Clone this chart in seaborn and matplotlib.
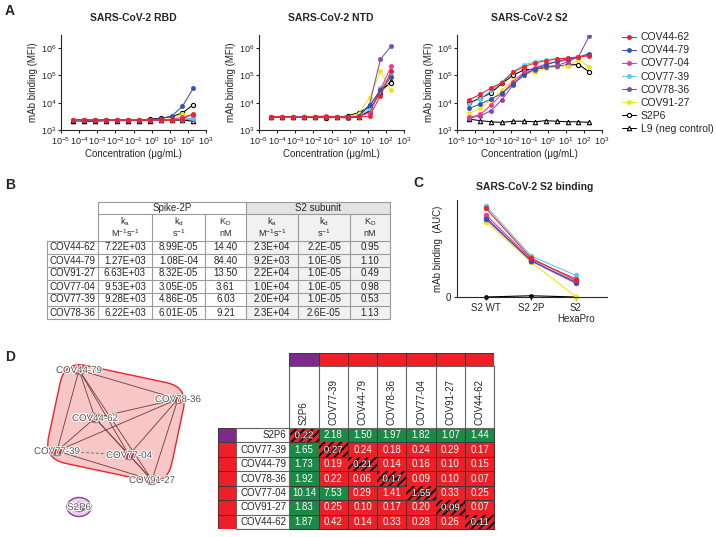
import numpy as np
import pandas as pd
import matplotlib
matplotlib.use('Agg')
import matplotlib.pyplot as plt
import matplotlib.patheffects as pe
import seaborn as sns
from matplotlib.colors import ListedColormap
from matplotlib.patches import Rectangle, Ellipse, FancyBboxPatch
from matplotlib.transforms import Affine2D
from matplotlib.ticker import NullLocator

W, H = 716, 537

# ---------------- data ----------------
antibodies = ['COV44-62', 'COV44-79', 'COV77-04', 'COV77-39', 'COV78-36', 'COV91-27',
              'S2P6', 'L9 (neg control)']
ab_colors = ['#ee2229', '#3453b0', '#f0359a', '#5ccbea', '#7c4db3', '#f4e31a', 'black', 'black']
concentration = [4.77e-5, 1.91e-4, 7.63e-4, 3.05e-3, 1.22e-2, 4.88e-2,
                 0.195, 0.781, 3.125, 12.5, 50, 200]

rbd_mfi = {
    'COV44-62': [2.4e3, 2.4e3, 2.3e3, 2.4e3, 2.3e3, 2.3e3, 2.3e3, 2.3e3, 2.3e3, 2.3e3, 2.5e3, 4.0e3],
    'COV44-79': [2.4e3, 2.3e3, 2.3e3, 2.3e3, 2.4e3, 2.3e3, 2.3e3, 2.4e3, 2.6e3, 3.2e3, 7.4e3, 3.4e4],
    'COV77-04': [2.3e3, 2.3e3, 2.3e3, 2.3e3, 2.3e3, 2.3e3, 2.3e3, 2.3e3, 2.4e3, 2.4e3, 3.0e3, 3.6e3],
    'COV77-39': [2.4e3, 2.3e3, 2.4e3, 2.3e3, 2.4e3, 2.3e3, 2.3e3, 2.3e3, 2.3e3, 2.4e3, 2.5e3, 2.8e3],
    'COV78-36': [2.3e3, 2.3e3, 2.3e3, 2.3e3, 2.3e3, 2.3e3, 2.3e3, 2.3e3, 2.3e3, 2.4e3, 2.4e3, 2.6e3],
    'COV91-27': [2.3e3, 2.3e3, 2.3e3, 2.3e3, 2.3e3, 2.3e3, 2.3e3, 2.3e3, 2.4e3, 2.6e3, 3.8e3, 3.2e3],
    'S2P6': [2.2e3, 2.3e3, 2.3e3, 2.3e3, 2.3e3, 2.3e3, 2.3e3, 2.5e3, 2.7e3, 3.1e3, 4.2e3, 8.5e3],
    'L9 (neg control)': [2.2e3, 2.1e3, 2.1e3, 2.2e3, 2.2e3, 2.2e3, 2.2e3, 2.2e3, 2.3e3, 2.3e3, 2.3e3, 2.1e3],
}
ntd_mfi = {
    'COV44-62': [3.1e3, 3.1e3, 3.0e3, 2.9e3, 3.1e3, 3.0e3, 3.0e3, 3.0e3, 3.0e3, 3.2e3, 1.8e4, 1.5e5],
    'COV44-79': [3.0e3, 3.0e3, 3.1e3, 3.0e3, 2.9e3, 2.9e3, 3.0e3, 2.7e3, 3.2e3, 8.0e3, 2.8e4, 9.0e4],
    'COV77-04': [3.0e3, 3.1e3, 3.0e3, 3.0e3, 3.1e3, 3.3e3, 3.0e3, 3.0e3, 3.1e3, 4.2e3, 3.0e4, 2.2e5],
    'COV77-39': [3.0e3, 3.0e3, 3.0e3, 3.0e3, 3.0e3, 3.0e3, 3.0e3, 2.9e3, 3.3e3, 6.0e3, 3.5e4, 1.0e5],
    'COV78-36': [3.0e3, 3.0e3, 3.0e3, 3.0e3, 3.0e3, 3.0e3, 2.9e3, 2.9e3, 3.3e3, 8.5e3, 3.9e5, 1.2e6],
    'COV91-27': [3.0e3, 3.0e3, 3.0e3, 3.0e3, 3.0e3, 3.0e3, 3.0e3, 3.0e3, 4.0e3, 1.5e4, 1.4e5, 2.8e4],
    'S2P6': [2.9e3, 3.0e3, 2.9e3, 2.9e3, 3.0e3, 2.8e3, 2.9e3, 3.3e3, 4.3e3, 7.0e3, 2.8e4, 5.4e4],
    'L9 (neg control)': [2.9e3, 2.9e3, 2.9e3, 2.9e3, 2.9e3, 2.9e3, 2.9e3, 2.9e3, 3.0e3, 5.0e3, 2.5e4, 6.5e4],
}
s2_mfi = {
    'COV44-62': [1.3e4, 2.0e4, 3.5e4, 5.4e4, 1.3e5, 2.1e5, 2.8e5, 3.5e5, 4.0e5, 4.3e5, 4.8e5, 5.3e5],
    'COV44-79': [6.2e3, 9.0e3, 1.35e4, 2.2e4, 4.8e4, 1.0e5, 1.7e5, 2.4e5, 3.3e5, 4.0e5, 4.7e5, 6.3e5],
    'COV77-04': [2.9e3, 3.7e3, 8.2e3, 2.1e4, 5.9e4, 1.3e5, 1.9e5, 2.6e5, 3.1e5, 3.6e5, 4.6e5, 5.5e5],
    'COV77-39': [9.0e3, 1.4e4, 2.8e4, 5.9e4, 1.35e5, 2.4e5, 3.2e5, 3.6e5, 4.1e5, 4.3e5, 4.6e5, 5.5e5],
    'COV78-36': [2.7e3, 3.3e3, 5.1e3, 1.3e4, 4.4e4, 1.2e5, 1.6e5, 2.1e5, 2.3e5, 3.1e5, 4.8e5, 2.8e6],
    'COV91-27': [4.1e3, 6.2e3, 1.25e4, 2.9e4, 6.8e4, 1.0e5, 1.35e5, 1.8e5, 2.1e5, 2.3e5, 3.6e5, 2.1e5],
    'S2P6': [1.0e4, 1.45e4, 2.3e4, 5.1e4, 1.0e5, 1.6e5, 1.7e5, 1.95e5, 2.2e5, 2.4e5, 2.5e5, 1.35e5],
    'L9 (neg control)': [2.5e3, 2.2e3, 2.0e3, 1.9e3, 2.1e3, 2.1e3, 2.0e3, 2.2e3, 2.1e3, 2.0e3, 2.0e3, 1.9e3],
}

# panel C: S2 binding AUC
c_antigens = ['S2 WT', 'S2 2P', 'S2\nHexaPro']
c_antibodies = ['COV44-62', 'COV44-79', 'COV77-04', 'COV77-39', 'COV78-36', 'COV91-27', 'S2P6']
c_wt = [10.7, 9.4, 9.9, 11.0, 9.6, 9.1, 0.0]
c_2p = [4.7, 4.4, 4.55, 4.95, 4.35, 4.2, 0.15]
c_hexapro = [2.0, 1.8, 2.2, 2.6, 1.65, 0.05, 0.0]

# panel B: kinetics table
b_rows = ['COV44-62', 'COV44-79', 'COV91-27', 'COV77-04', 'COV77-39', 'COV78-36']
spike_ka = [7.22e3, 1.27e3, 6.63e3, 9.53e3, 9.28e3, 6.22e3]
spike_kd = [8.99e-5, 1.08e-4, 8.32e-5, 3.05e-5, 4.86e-5, 6.01e-5]
spike_KD = [14.40, 84.40, 13.50, 3.61, 6.03, 9.21]
s2_ka = [2.3e4, 9.2e3, 2.2e4, 1.0e4, 2.0e4, 2.3e4]
s2_kd = [2.2e-5, 1.0e-5, 1.0e-5, 1.0e-5, 1.0e-5, 2.6e-5]
s2_KD = [0.95, 1.10, 0.49, 0.98, 0.53, 1.13]

# panel D: competition network + matrix
net_nodes = ['COV44-79', 'COV78-36', 'COV44-62', 'COV77-39', 'COV77-04', 'COV91-27', 'S2P6']
net_x = [79, 178, 95, 57, 129, 152, 79]
net_y = [370, 399, 418, 451, 455, 480, 507]
net_edges = [('COV44-79', 'COV78-36'), ('COV44-79', 'COV44-62'), ('COV44-79', 'COV77-39'),
             ('COV44-79', 'COV77-04'), ('COV44-79', 'COV91-27'), ('COV78-36', 'COV44-62'),
             ('COV78-36', 'COV77-39'), ('COV78-36', 'COV77-04'), ('COV78-36', 'COV91-27'),
             ('COV44-62', 'COV77-39'), ('COV44-62', 'COV77-04'), ('COV44-62', 'COV91-27'),
             ('COV77-39', 'COV91-27'), ('COV77-04', 'COV91-27')]
net_dashed = [('COV77-39', 'COV77-04')]

hm_labels = ['S2P6', 'COV77-39', 'COV44-79', 'COV78-36', 'COV77-04', 'COV91-27', 'COV44-62']
hm_groups = [1, 0, 0, 0, 0, 0, 0]
hm_values = [
    [0.22, 2.18, 1.50, 1.97, 1.82, 1.07, 1.44],
    [1.65, 0.27, 0.24, 0.18, 0.24, 0.29, 0.17],
    [1.73, 0.19, 0.21, 0.14, 0.16, 0.10, 0.15],
    [1.92, 0.22, 0.06, 0.17, 0.09, 0.10, 0.07],
    [10.14, 7.53, 0.29, 1.41, 1.55, 0.33, 0.25],
    [1.83, 0.25, 0.10, 0.17, 0.20, 0.09, 0.07],
    [1.87, 0.42, 0.14, 0.33, 0.28, 0.26, 0.11],
]

RED = '#ee1f26'
GREEN = '#1b8a47'
PURPLE = '#7d2a8c'

# ---------------- style ----------------
sns.set_style('ticks')
plt.rcParams['font.family'] = ['Liberation Sans', 'DejaVu Sans']
plt.rcParams['mathtext.fontset'] = 'custom'
plt.rcParams['mathtext.rm'] = 'Liberation Sans'
plt.rcParams['mathtext.it'] = 'Liberation Sans:italic'
plt.rcParams['mathtext.bf'] = 'Liberation Sans:bold'
plt.rcParams['axes.unicode_minus'] = False
plt.rcParams['hatch.linewidth'] = 1.3
plt.rcParams['hatch.color'] = 'black'


def px_rect(left, top, right, bottom):
    return [left / W, 1 - bottom / H, (right - left) / W, (bottom - top) / H]


fig = plt.figure(figsize=(W / 100, H / 100), dpi=100)

# overlay in pixel coordinates for letters, table and network
ax_o = fig.add_axes([0, 0, 1, 1])
ax_o.set_xlim(0, W)
ax_o.set_ylim(H, 0)
ax_o.axis('off')

for letter, (lx, ly) in zip('ABCD', [(10, 11), (10, 185), (418, 183), (10, 357)]):
    ax_o.text(lx, ly, letter, fontsize=10, fontweight='bold', ha='center', va='center')


def marker_style(name, color):
    if name == 'S2P6':
        return dict(marker='o', markersize=3.0, markerfacecolor='white',
                    markeredgecolor='black', markeredgewidth=0.8)
    if name.startswith('L9'):
        return dict(marker='^', markersize=3.2, markerfacecolor='white',
                    markeredgecolor='black', markeredgewidth=0.8)
    return dict(marker='o', markersize=3.0, markerfacecolor=color,
                markeredgecolor=color, markeredgewidth=0.5)


# ---------------- panel A ----------------
panels = [('SARS-CoV-2 RBD', rbd_mfi), ('SARS-CoV-2 NTD', ntd_mfi), ('SARS-CoV-2 S2', s2_mfi)]
for i, (title, mfi) in enumerate(panels):
    left = 61 + 198 * i
    ax = fig.add_axes(px_rect(left, 35, left + 145, 130))
    ax.set_xscale('log')
    ax.set_yscale('log')
    for name, color in reversed(list(zip(antibodies, ab_colors))):
        sns.lineplot(x=concentration, y=mfi[name], ax=ax, color=color, linewidth=0.75,
                     errorbar=None, legend=False, label=name, **marker_style(name, color))
    ax.set_xlim(1e-5, 1e3)
    ax.set_ylim(1e3, 10 ** 6.48)
    ax.set_xticks([10.0 ** k for k in range(-5, 4)])
    ax.set_yticks([1e3, 1e4, 1e5, 1e6])
    ax.xaxis.set_minor_locator(NullLocator())
    ax.yaxis.set_minor_locator(NullLocator())
    sns.despine(ax=ax)
    for s in ('left', 'bottom'):
        ax.spines[s].set_linewidth(0.8)
    ax.tick_params(labelsize=6.5, length=2.5, width=0.8, pad=1)
    ax.set_xlabel('Concentration (μg/mL)', fontsize=7, labelpad=2)
    ax.set_ylabel('mAb binding (MFI)', fontsize=7, labelpad=2)
    ax_o.text(left + 72, 18, title, ha='center', va='center', fontsize=7.5, fontweight='bold')
    if i == 2:
        handles, labels = ax.get_legend_handles_labels()
        lookup = dict(zip(labels, handles))
        fig.legend([lookup[n] for n in antibodies], antibodies, loc='upper left',
                   bbox_to_anchor=(618 / W, 1 - 28 / H), frameon=False, fontsize=7.5,
                   handlelength=1.3, handletextpad=0.5, labelspacing=0.3, borderaxespad=0)

# ---------------- panel B ----------------
col_edges = [47, 98, 152, 205, 246, 298, 350, 390]
t_top, t_head, t_unit, row_h = 202, 214, 241, 13
t_bot = t_unit + row_h * len(b_rows)
line_c = '#9a9a9a'
ax_o.add_patch(Rectangle((246, t_top), 390 - 246, t_bot - t_top, fc='#f1f1f1', ec='none'))
ax_o.add_patch(Rectangle((246, t_top), 390 - 246, t_head - t_top, fc='#e3e3e3', ec='none'))
ax_o.plot([98, 390], [t_top, t_top], color=line_c, lw=0.8)
ax_o.plot([98, 390], [t_head, t_head], color=line_c, lw=0.8)
for r in range(len(b_rows) + 1):
    yy = t_unit + r * row_h
    ax_o.plot([47, 390], [yy, yy], color=line_c, lw=0.8)
ax_o.plot([47, 47], [t_unit, t_bot], color=line_c, lw=0.8)
for xe in col_edges[1:]:
    y0 = t_top if xe in (98, 246, 390) else t_head
    ax_o.plot([xe, xe], [y0, t_bot], color=line_c, lw=0.8)
ax_o.text((98 + 246) / 2, (t_top + t_head) / 2, 'Spike-2P', ha='center', va='center', fontsize=7)
ax_o.text((246 + 390) / 2, (t_top + t_head) / 2, 'S2 subunit', ha='center', va='center', fontsize=7)
unit_top = ['k$_{\\mathregular{a}}$', 'k$_{\\mathregular{d}}$', 'K$_{\\mathregular{D}}$'] * 2
unit_bot = ['M$^{\\mathregular{-1}}$s$^{\\mathregular{-1}}$', 's$^{\\mathregular{-1}}$', 'nM'] * 2
for j in range(6):
    xc = (col_edges[j + 1] + col_edges[j + 2]) / 2
    ax_o.text(xc, t_head + 8, unit_top[j], ha='center', va='center', fontsize=6.5)
    ax_o.text(xc, t_head + 19.5, unit_bot[j], ha='center', va='center', fontsize=6.5)
cols_fmt = [[f'{v:.2E}' for v in spike_ka], [f'{v:.2E}' for v in spike_kd],
            [f'{v:.2f}' for v in spike_KD], [f'{v:.1E}' for v in s2_ka],
            [f'{v:.1E}' for v in s2_kd], [f'{v:.2f}' for v in s2_KD]]
for r, name in enumerate(b_rows):
    yc = t_unit + row_h * (r + 0.5)
    ax_o.text((47 + 98) / 2, yc, name, ha='center', va='center', fontsize=7)
    for j in range(6):
        xc = (col_edges[j + 1] + col_edges[j + 2]) / 2
        ax_o.text(xc, yc, cols_fmt[j][r], ha='center', va='center', fontsize=7)

# ---------------- panel C ----------------
ax_c = fig.add_axes(px_rect(457, 200, 607, 297))
c_df = pd.DataFrame({
    'antibody': np.repeat(c_antibodies, 3),
    'antigen': c_antigens * len(c_antibodies),
    'auc': np.ravel(np.column_stack([c_wt, c_2p, c_hexapro])),
})
for name, color in reversed(list(zip(antibodies[:7], ab_colors[:7]))):
    sub = c_df[c_df['antibody'] == name]
    ms = 2.6 if name == 'S2P6' else 3.2
    sns.lineplot(data=sub, x='antigen', y='auc', ax=ax_c, color=color, linewidth=0.8,
                 marker='o', markersize=ms, markerfacecolor=color, markeredgecolor=color,
                 errorbar=None, legend=False, sort=False, clip_on=False)
ax_c.set_xlim(-0.644, 2.69)
ax_c.set_ylim(0, 11.7)
ax_c.set_yticks([0])
sns.despine(ax=ax_c)
for s in ('left', 'bottom'):
    ax_c.spines[s].set_linewidth(0.8)
ax_c.tick_params(labelsize=7, length=2.5, width=0.8, pad=1.5)
ax_c.set_xlabel('')
ax_c.set_ylabel('mAb binding  (AUC)', fontsize=7, labelpad=2)
ax_o.text(535, 187, 'SARS-CoV-2 S2 binding', ha='center', va='center', fontsize=7.5,
          fontweight='bold')

# ---------------- panel D: network ----------------
pos = {n: (x, y) for n, x, y in zip(net_nodes, net_x, net_y)}
hull = FancyBboxPatch((116 - 63, 423 - 50), 126, 100,
                      boxstyle='round,pad=0,rounding_size=22',
                      fc='#f7c6c6', ec='#ee2229', lw=1.0,
                      transform=Affine2D().rotate_deg_around(116, 423, 12) + ax_o.transData)
ax_o.add_patch(hull)
s2p6_x, s2p6_y = pos['S2P6']
ax_o.add_patch(Ellipse((s2p6_x, s2p6_y), 24, 19, fc='#ecd2ef', ec='#8d3a9c', lw=1.0))
for a, b in net_edges:
    ax_o.plot([pos[a][0], pos[b][0]], [pos[a][1], pos[b][1]], color='#6e3a3a', lw=0.6)
for a, b in net_dashed:
    ax_o.plot([pos[a][0], pos[b][0]], [pos[a][1], pos[b][1]], color='#777777', lw=0.7,
              ls=(0, (3, 2)))
for n in net_nodes:
    fc = PURPLE if n == 'S2P6' else '#e8242b'
    ax_o.add_patch(Ellipse(pos[n], 13, 9, fc=fc, ec='#8a8a8a', lw=1.0, zorder=3))
    ax_o.text(pos[n][0], pos[n][1], n, ha='center', va='center', fontsize=7, color='#555555',
              zorder=4, path_effects=[pe.withStroke(linewidth=1.5, foreground='white')])

# ---------------- panel D: matrix ----------------
vals = np.array(hm_values)
groups = np.array(hm_groups)
n = len(hm_labels)
cat = np.where((groups[:, None] != groups[None, :]) | (vals >= 2.0), 1, 0)
grid_c = '#3a3a3a'

ax_hm = fig.add_axes(px_rect(289.3, 428, 494.3, 529))
sns.heatmap(cat, cmap=ListedColormap([RED, GREEN]), vmin=0, vmax=1, annot=vals, fmt='.2f',
            annot_kws={'color': 'white', 'fontsize': 7}, linewidths=0.6, linecolor=grid_c,
            cbar=False, xticklabels=False, yticklabels=False, ax=ax_hm)
for k in range(n):
    ax_hm.add_patch(Rectangle((k, k), 1, 1, fc=RED, ec='black', lw=0, hatch='////', zorder=2))
for t in ax_hm.texts:
    t.set_zorder(4)
    x, y = t.get_position()
    if int(x) == int(y):
        t.set_path_effects([pe.withStroke(linewidth=0.8, foreground='#222222')])
for s in ax_hm.spines.values():
    s.set_visible(True)
    s.set_color(grid_c)
    s.set_linewidth(0.8)

ax_top = fig.add_axes(px_rect(289.3, 352.7, 494.3, 366))
sns.heatmap([hm_groups], cmap=ListedColormap([RED, PURPLE]), vmin=0, vmax=1, linewidths=0.6,
            linecolor=grid_c, cbar=False, xticklabels=False, yticklabels=False, ax=ax_top)

ax_side = fig.add_axes(px_rect(218, 428, 236, 529))
sns.heatmap(groups[:, None], cmap=ListedColormap([RED, PURPLE]), vmin=0, vmax=1,
            linewidths=0.6, linecolor=grid_c, cbar=False, xticklabels=False,
            yticklabels=False, ax=ax_side)

ax_lab = fig.add_axes(px_rect(289.3, 366, 494.3, 428))
ax_lab.set_xlim(0, n)
ax_lab.set_ylim(0, 1)
ax_lab.set_xticks([])
ax_lab.set_yticks([])
for k in range(n + 1):
    ax_lab.axvline(k, color='#666666', lw=0.8)
for k, lab in enumerate(hm_labels):
    ax_lab.text(k + 0.5, 0.05, lab, rotation=90, ha='center', va='bottom', fontsize=7)
for s in ax_lab.spines.values():
    s.set_color('#666666')
    s.set_linewidth(0.8)

ax_rl = fig.add_axes(px_rect(236, 428, 289.3, 529))
ax_rl.set_xlim(0, 1)
ax_rl.set_ylim(n, 0)
ax_rl.set_xticks([])
ax_rl.set_yticks([])
for k in range(n + 1):
    ax_rl.axhline(k, color='#666666', lw=0.8)
for k, lab in enumerate(hm_labels):
    ax_rl.text(0.95, k + 0.5, lab, ha='right', va='center', fontsize=7)
for s in ax_rl.spines.values():
    s.set_color('#666666')
    s.set_linewidth(0.8)

fig.savefig('out.png', dpi=100, facecolor='white')
